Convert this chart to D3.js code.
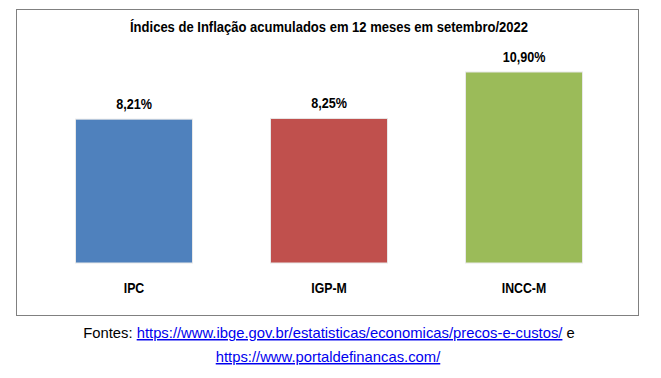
<!DOCTYPE html>
<html>
<head>
<meta charset="utf-8">
<script src="https://cdn.jsdelivr.net/npm/d3@7"></script>
<style>
  body { margin: 0; background: #fff; }
  svg { display: block; }
</style>
</head>
<body>
<div id="chart"></div>
<script>
// chart data
var categories = ["IPC", "IGP-M", "INCC-M"];
var values = [8.21, 8.25, 10.90];
var valueLabels = ["8,21%", "8,25%", "10,90%"];
var barColors = ["#4F81BD", "#C0504D", "#9BBB59"];
var chartTitle = "Índices de Inflação acumulados em 12 meses em setembro/2022";

var W = 661, H = 378;
var font = "'Liberation Sans', Arial, sans-serif";

// squeeze a text horizontally (the original uses a narrow font)
function condense(sel, k) {
  sel.each(function() {
    var w = this.getComputedTextLength();
    d3.select(this)
      .attr("textLength", w * k)
      .attr("lengthAdjust", "spacingAndGlyphs");
  });
}

var svg = d3.select("#chart")
  .append("svg")
    .attr("width", W)
    .attr("height", H);

// outer frame
svg.append("rect")
  .attr("x", 16.5)
  .attr("y", 9.5)
  .attr("width", 622)
  .attr("height", 306)
  .attr("fill", "#fff")
  .attr("stroke", "#808080")
  .attr("stroke-width", 1);

// scales
var x = d3.scaleBand()
  .domain(categories)
  .range([36.5, 621.5])
  .paddingInner(0.4)
  .paddingOuter(0.2);

var y = d3.scaleLinear()
  .domain([0, 10.9])
  .range([263, 72]);

// title
svg.append("text")
  .attr("x", 329)
  .attr("y", 32)
  .attr("text-anchor", "middle")
  .style("font-family", font)
  .style("font-weight", "bold")
  .style("font-size", "15px")
  .text(chartTitle)
  .attr("textLength", 398)
  .attr("lengthAdjust", "spacingAndGlyphs");

// bars
svg.append("g")
  .selectAll("rect")
  .data(values)
  .enter()
  .append("rect")
    .attr("x", function(d, i) { return x(categories[i]); })
    .attr("y", function(d) { return y(d); })
    .attr("width", x.bandwidth())
    .attr("height", function(d) { return y(0) - y(d); })
    .attr("fill", function(d, i) { return barColors[i]; })
    .attr("stroke", "#e8e8e8")
    .attr("stroke-width", 1);

// value labels
svg.append("g")
  .selectAll("text")
  .data(values)
  .enter()
  .append("text")
    .attr("x", function(d, i) { return x(categories[i]) + x.bandwidth() / 2; })
    .attr("y", function(d) { return y(d) - 10; })
    .attr("text-anchor", "middle")
    .style("font-family", font)
    .style("font-weight", "bold")
    .style("font-size", "14px")
    .text(function(d, i) { return valueLabels[i]; })
    .call(condense, 0.9);

// category labels
svg.append("g")
  .selectAll("text")
  .data(categories)
  .enter()
  .append("text")
    .attr("x", function(d) { return x(d) + x.bandwidth() / 2; })
    .attr("y", 293)
    .attr("text-anchor", "middle")
    .style("font-family", font)
    .style("font-weight", "bold")
    .style("font-size", "15px")
    .text(function(d) { return d; })
    .call(condense, 0.82);

// sources
var foot = svg.append("text")
  .attr("x", 329)
  .attr("y", 338)
  .attr("text-anchor", "middle")
  .style("font-family", font)
  .style("font-size", "14.8px")
  .attr("fill", "#000");
foot.append("tspan").text("Fontes: ");
foot.append("tspan")
  .attr("fill", "#0000EE")
  .style("text-decoration", "underline")
  .text("https://www.ibge.gov.br/estatisticas/economicas/precos-e-custos/");
foot.append("tspan").text(" e");

svg.append("text")
  .attr("x", 328)
  .attr("y", 362)
  .attr("text-anchor", "middle")
  .style("font-family", font)
  .style("font-size", "14.8px")
  .attr("fill", "#0000EE")
  .style("text-decoration", "underline")
  .text("https://www.portaldefinancas.com/");
</script>
</body>
</html>
